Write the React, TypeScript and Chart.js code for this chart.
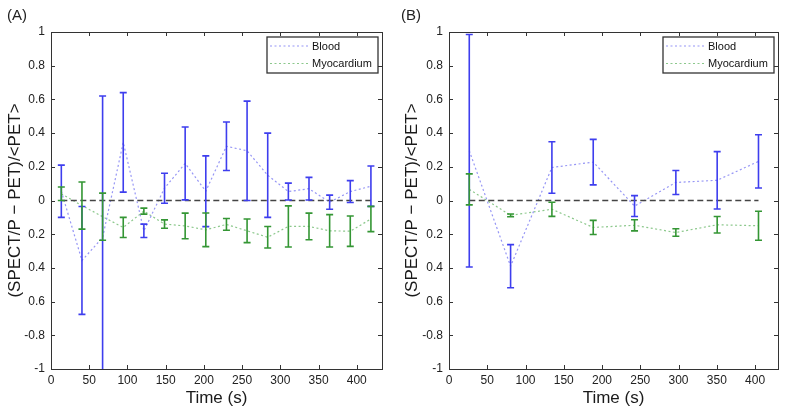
import React, { useEffect, useRef } from "react";
import { Chart, registerables } from "chart.js";

Chart.register(...registerables);

// ---- Axis ticks ----
const xTicks = [0, 50, 100, 150, 200, 250, 300, 350, 400];
const xTickLabels = ["0", "50", "100", "150", "200", "250", "300", "350", "400"];
const yTickValues = [-1, -0.8, -0.6, -0.4, -0.2, 0, 0.2, 0.4, 0.6, 0.8, 1];
const yTickLabels = ["-1", "-0.8", "0.6", "0.4", "0.2", "0", "0.2", "0.4", "0.6", "0.8", "1"];

const seriesNames = ["Blood", "Myocardium"];

// ---- Panel A ----
const timesA = [13.5, 40.5, 67.5, 94.5, 121.5, 148.5, 175.5, 202.5, 229.5, 256.5, 283.5, 310.5, 337.5, 364.5, 391.5, 418.5];
const bloodA = [0.055, -0.356, -0.22, 0.345, -0.18, 0.073, 0.22, 0.055, 0.322, 0.295, 0.15, 0.053, 0.07, -0.01, 0.053, 0.085];
const bloodErrA = [0.155, 0.32, 0.84, 0.295, 0.04, 0.089, 0.216, 0.21, 0.144, 0.295, 0.25, 0.05, 0.067, 0.042, 0.065, 0.12];
const myoA = [0.04, -0.03, -0.096, -0.16, -0.063, -0.14, -0.151, -0.174, -0.142, -0.18, -0.218, -0.154, -0.154, -0.18, -0.182, -0.11];
const myoErrA = [0.04, 0.14, 0.14, 0.06, 0.018, 0.025, 0.076, 0.1, 0.035, 0.07, 0.064, 0.122, 0.079, 0.096, 0.09, 0.075];

// ---- Panel B ----
const timesB = [26.5, 80.5, 134.5, 188.5, 242.5, 296.5, 350.5, 404.5];
const bloodB = [0.295, -0.39, 0.196, 0.228, -0.033, 0.107, 0.12, 0.232];
const bloodErrB = [0.69, 0.128, 0.153, 0.135, 0.062, 0.071, 0.17, 0.158];
const myoB = [0.066, -0.088, -0.052, -0.16, -0.147, -0.19, -0.144, -0.15];
const myoErrB = [0.092, 0.008, 0.042, 0.042, 0.033, 0.022, 0.049, 0.086];

const FONT = "'Liberation Sans', Arial, Helvetica, sans-serif";
const BLUE_BAR = "rgb(62,62,238)";
const GREEN_BAR = "rgb(52,150,52)";
const BLUE_DOT = "rgb(150,150,245)";
const GREEN_DOT = "rgb(140,200,140)";
const DOT_DASH = [2, 2.5];

const errorBarPlugin = {
  id: "errorBars",
  afterDatasetsDraw(chart: any, _args: any, opts: any) {
    const { ctx, chartArea, scales } = chart;
    const xs = scales.x;
    const ys = scales.y;
    ctx.save();
    ctx.beginPath();
    ctx.rect(chartArea.left, chartArea.top, chartArea.right - chartArea.left, chartArea.bottom - chartArea.top);
    ctx.clip();
    for (const s of opts.sets || []) {
      ctx.strokeStyle = s.color;
      ctx.lineWidth = 1.6;
      ctx.setLineDash([]);
      s.x.forEach((xv: number, i: number) => {
        const px = xs.getPixelForValue(xv);
        const top = ys.getPixelForValue(s.y[i] + s.err[i]);
        const bot = ys.getPixelForValue(s.y[i] - s.err[i]);
        ctx.beginPath();
        ctx.moveTo(px, top);
        ctx.lineTo(px, bot);
        ctx.moveTo(px - 3.5, top);
        ctx.lineTo(px + 3.5, top);
        ctx.moveTo(px - 3.5, bot);
        ctx.lineTo(px + 3.5, bot);
        ctx.stroke();
      });
    }
    ctx.restore();
  },
};

const framePlugin = {
  id: "frame",
  afterDraw(chart: any) {
    const { ctx, chartArea, scales } = chart;
    const { left, right, top, bottom } = chartArea;
    ctx.save();
    ctx.strokeStyle = "#333";
    ctx.lineWidth = 1;
    ctx.setLineDash([]);
    ctx.strokeRect(left + 0.5, top + 0.5, right - left, bottom - top);
    const tl = 4;
    ctx.beginPath();
    for (const v of xTicks) {
      const px = Math.round(scales.x.getPixelForValue(v)) + 0.5;
      ctx.moveTo(px, bottom);
      ctx.lineTo(px, bottom - tl);
      ctx.moveTo(px, top);
      ctx.lineTo(px, top + tl);
    }
    for (const v of yTickValues) {
      const py = Math.round(scales.y.getPixelForValue(v)) + 0.5;
      ctx.moveTo(left, py);
      ctx.lineTo(left + tl, py);
      ctx.moveTo(right, py);
      ctx.lineTo(right - tl, py);
    }
    ctx.stroke();
    ctx.restore();
  },
};

const legendPlugin = {
  id: "boxLegend",
  afterDraw(chart: any) {
    const { ctx, chartArea } = chart;
    const w = 111;
    const h = 36;
    const x0 = chartArea.right - 4 - w;
    const y0 = chartArea.top + 5;
    ctx.save();
    ctx.fillStyle = "#fff";
    ctx.fillRect(x0, y0, w, h);
    ctx.strokeStyle = "#333";
    ctx.lineWidth = 1.3;
    ctx.setLineDash([]);
    ctx.strokeRect(x0, y0, w, h);
    const rows = [
      { label: seriesNames[0], color: BLUE_DOT, y: y0 + 9 },
      { label: seriesNames[1], color: GREEN_DOT, y: y0 + 26.5 },
    ];
    ctx.font = `11px ${FONT}`;
    ctx.textBaseline = "middle";
    ctx.textAlign = "left";
    for (const r of rows) {
      ctx.strokeStyle = r.color;
      ctx.lineWidth = 1.2;
      ctx.setLineDash(DOT_DASH);
      ctx.beginPath();
      ctx.moveTo(x0 + 3, r.y);
      ctx.lineTo(x0 + 43, r.y);
      ctx.stroke();
      ctx.setLineDash([]);
      ctx.fillStyle = "#111";
      ctx.fillText(r.label, x0 + 45, r.y + 0.5);
    }
    ctx.restore();
  },
};

type PanelProps = {
  times: number[];
  blood: number[];
  bloodErr: number[];
  myo: number[];
  myoErr: number[];
  xMax: number;
  yAxisWidth: number;
  rightPad: number;
  yTitlePad: number;
};

function Panel(p: PanelProps) {
  const ref = useRef<HTMLCanvasElement | null>(null);
  useEffect(() => {
    if (!ref.current) return;
    const toPts = (xs: number[], ys: number[]) => xs.map((x, i) => ({ x, y: ys[i] }));
    const chart = new Chart(ref.current, {
      type: "line",
      data: {
        datasets: [
          {
            label: "zero",
            data: [
              { x: p.times[0], y: 0 },
              { x: p.times[p.times.length - 1], y: 0 },
            ],
            borderColor: "#444",
            borderWidth: 1.5,
            borderDash: [6, 3.5],
            pointRadius: 0,
            fill: false,
          },
          {
            label: seriesNames[0],
            data: toPts(p.times, p.blood),
            borderColor: BLUE_DOT,
            borderWidth: 1.2,
            borderDash: DOT_DASH,
            pointRadius: 0,
            fill: false,
            tension: 0,
          },
          {
            label: seriesNames[1],
            data: toPts(p.times, p.myo),
            borderColor: GREEN_DOT,
            borderWidth: 1.2,
            borderDash: DOT_DASH,
            pointRadius: 0,
            fill: false,
            tension: 0,
          },
        ],
      },
      options: {
        responsive: false,
        animation: false,
        devicePixelRatio: 1,
        layout: { padding: { top: 32, right: p.rightPad, left: 0, bottom: 0 } },
        plugins: {
          legend: { display: false },
          tooltip: { enabled: false },
          errorBars: {
            sets: [
              { x: p.times, y: p.blood, err: p.bloodErr, color: BLUE_BAR },
              { x: p.times, y: p.myo, err: p.myoErr, color: GREEN_BAR },
            ],
          },
        } as any,
        scales: {
          x: {
            type: "linear",
            min: 0,
            max: p.xMax,
            grid: { display: false, drawTicks: false },
            border: { display: false },
            afterBuildTicks: (scale: any) => {
              scale.ticks = xTicks.map((v) => ({ value: v }));
            },
            afterFit: (scale: any) => {
              scale.height = 48;
            },
            ticks: {
              padding: 4,
              maxRotation: 0,
              autoSkip: false,
              color: "#222",
              font: { family: FONT, size: 12 },
              callback: (_v: any, i: number) => xTickLabels[i],
            },
            title: {
              display: true,
              text: "Time (s)",
              color: "#1a1a1a",
              font: { family: FONT, size: 17 },
              padding: { top: 0, bottom: 8 },
            },
          },
          y: {
            type: "linear",
            min: -1,
            max: 1,
            grid: { display: false, drawTicks: false },
            border: { display: false },
            afterBuildTicks: (scale: any) => {
              scale.ticks = yTickValues.map((v) => ({ value: v }));
            },
            afterFit: (scale: any) => {
              scale.width = p.yAxisWidth;
            },
            ticks: {
              padding: 6,
              autoSkip: false,
              color: "#222",
              font: { family: FONT, size: 12 },
              callback: (_v: any, i: number) => yTickLabels[i],
            },
            title: {
              display: true,
              text: "(SPECT/P \u2212 PET)/<PET>",
              color: "#1a1a1a",
              font: { family: FONT, size: 17 },
              padding: { top: p.yTitlePad, bottom: 0 },
            },
          },
        },
      },
      plugins: [errorBarPlugin, framePlugin, legendPlugin],
    } as any);
    return () => chart.destroy();
  }, []);
  return <canvas ref={ref} width={393} height={417} style={{ display: "block", width: 393, height: 417 }} />;
}

export default function App() {
  const labelStyle: React.CSSProperties = {
    position: "absolute",
    top: 7,
    fontFamily: FONT,
    fontSize: 15,
    lineHeight: "15px",
    color: "#222",
  };
  return (
    <div style={{ position: "absolute", left: 0, top: 0, width: 786, height: 417, background: "#fff", overflow: "hidden" }}>
      <div style={{ position: "absolute", left: 0, top: 0 }}>
        <Panel times={timesA} blood={bloodA} bloodErr={bloodErrA} myo={myoA} myoErr={myoErrA} xMax={433} yAxisWidth={51} rightPad={11} yTitlePad={5} />
      </div>
      <div style={{ position: "absolute", left: 393, top: 0 }}>
        <Panel times={timesB} blood={bloodB} bloodErr={bloodErrB} myo={myoB} myoErr={myoErrB} xMax={430} yAxisWidth={56} rightPad={8} yTitlePad={9} />
      </div>
      <div style={{ ...labelStyle, left: 7 }}>(A)</div>
      <div style={{ ...labelStyle, left: 401 }}>(B)</div>
    </div>
  );
}
